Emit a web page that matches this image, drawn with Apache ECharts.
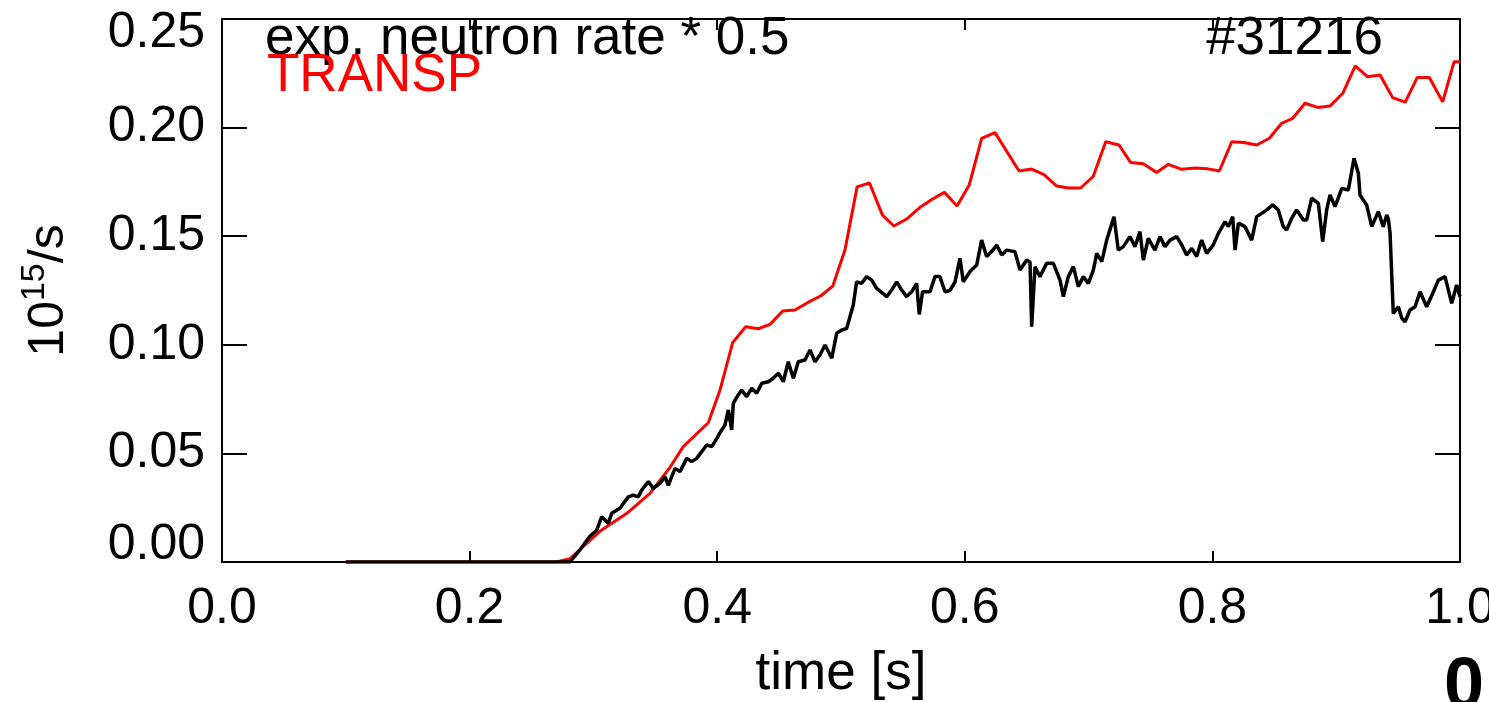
<!DOCTYPE html>
<html>
<head>
<meta charset="utf-8">
<script src="https://cdn.jsdelivr.net/npm/echarts@6/dist/echarts.min.js"></script>
<style>
html,body{margin:0;padding:0;background:#fff;}
#main{width:1489px;height:702px;}
</style>
</head>
<body>
<div id="main"></div>
<script>
const xTicks = [0.0, 0.2, 0.4, 0.6, 0.8, 1.0];
const yTicks = [0.00, 0.05, 0.10, 0.15, 0.20, 0.25];
const legendLabels = ['exp. neutron rate * 0.5', 'TRANSP'];
const shotLabel = '#31216';

// TRANSP (red), [time s, 10^15/s]
const transp = [
[0.100,0],[0.270,0],[0.281,0.0015],[0.305,0.014],[0.327,0.0224],[0.3457,0.0316],[0.3619,0.0436],
[0.3726,0.0531],[0.3928,0.0641],[0.4023,0.0792],[0.4125,0.101],[0.423,0.1083],[0.4332,0.1074],
[0.4427,0.1094],[0.4529,0.1156],[0.4628,0.116],[0.4733,0.1195],[0.4838,0.1226],[0.4933,0.127],
[0.5032,0.1436],[0.513,0.1727],[0.523,0.1745],[0.5335,0.1597],[0.5428,0.1547],[0.553,0.1579],
[0.5638,0.1633],[0.574,0.1671],[0.5835,0.1702],[0.5937,0.1639],[0.6036,0.1736],[0.6136,0.195],
[0.6244,0.1977],[0.6438,0.18],[0.654,0.1809],[0.664,0.1783],[0.6742,0.1731],[0.6836,0.1722],
[0.6936,0.1722],[0.7038,0.1776],[0.7138,0.1935],[0.7246,0.192],[0.734,0.1839],[0.7442,0.1834],
[0.755,0.1793],[0.7644,0.1831],[0.7752,0.1808],[0.786,0.1814],[0.7954,0.1811],[0.8056,0.18],
[0.8156,0.1935],[0.8255,0.1931],[0.8358,0.192],[0.846,0.1951],[0.856,0.202],[0.8649,0.2043],
[0.8748,0.2112],[0.885,0.2093],[0.895,0.2099],[0.9053,0.2158],[0.9154,0.2284],[0.9254,0.2234],
[0.9354,0.2242],[0.9456,0.2138],[0.9558,0.2117],[0.9655,0.2231],[0.9752,0.2231],[0.986,0.2119],
[0.9952,0.2303],[1.0,0.2303]
];

// experimental neutron rate * 0.5 (black), [time s, 10^15/s]
const expNeutron = [
[0.100,0],[0.281,0],[0.289,0.0055],[0.297,0.0117],[0.3027,0.0147],[0.3067,0.0209],[0.312,0.0178],
[0.3148,0.0224],[0.3215,0.0247],[0.3242,0.027],[0.3282,0.030],[0.3322,0.0308],[0.3363,0.030],
[0.339,0.0331],[0.3444,0.037],[0.3484,0.0339],[0.3538,0.0362],[0.3578,0.0393],[0.3605,0.0353],
[0.3659,0.0431],[0.370,0.0416],[0.3754,0.0477],[0.3794,0.0462],[0.3834,0.0477],[0.3875,0.0508],
[0.3915,0.0539],[0.3956,0.0531],[0.3996,0.0568],[0.4036,0.0608],[0.4063,0.0631],[0.409,0.070],
[0.4117,0.0608],[0.413,0.0731],[0.417,0.0769],[0.4198,0.0792],[0.4238,0.0761],[0.4279,0.0800],
[0.4319,0.0777],[0.436,0.0823],[0.4413,0.083],[0.4453,0.0846],[0.4494,0.0869],[0.4534,0.083],
[0.4574,0.0922],[0.4615,0.0846],[0.4655,0.0922],[0.4709,0.093],[0.475,0.0976],[0.479,0.0922],
[0.483,0.0953],[0.4871,0.0999],[0.4925,0.0938],[0.4965,0.1053],[0.5006,0.1068],[0.5046,0.1076],
[0.5099,0.1183],[0.5126,0.129],[0.5167,0.1283],[0.5207,0.1314],[0.5248,0.1298],[0.5288,0.126],
[0.533,0.124],[0.5369,0.1222],[0.5409,0.1252],[0.545,0.129],[0.549,0.1252],[0.553,0.1222],
[0.5571,0.1244],[0.5611,0.1283],[0.5632,0.114],[0.5659,0.1244],[0.5719,0.1244],[0.5759,0.1314],
[0.5799,0.1314],[0.584,0.1244],[0.588,0.125],[0.5921,0.129],[0.5961,0.1398],[0.5988,0.129],
[0.6042,0.1337],[0.6096,0.1367],[0.6136,0.1482],[0.6176,0.1406],[0.6217,0.1429],[0.6258,0.1459],
[0.6298,0.1413],[0.6338,0.1436],[0.6405,0.1429],[0.6446,0.1344],[0.650,0.139],[0.6527,0.138],
[0.654,0.1083],[0.6567,0.1359],[0.6607,0.1314],[0.6661,0.1375],[0.6715,0.1375],[0.6769,0.1298],
[0.6796,0.1222],[0.6836,0.1314],[0.6877,0.136],[0.6917,0.1268],[0.6957,0.1314],[0.6998,0.1283],
[0.7038,0.1344],[0.7066,0.1421],[0.7106,0.1383],[0.7146,0.1482],[0.7205,0.159],[0.724,0.1436],
[0.728,0.1452],[0.7334,0.1498],[0.7375,0.1452],[0.7415,0.1521],[0.7442,0.139],[0.7482,0.149],
[0.7536,0.1436],[0.7577,0.1498],[0.7617,0.1452],[0.7658,0.1482],[0.7712,0.1498],[0.7752,0.146],
[0.7792,0.1413],[0.7833,0.1444],[0.7873,0.1406],[0.7913,0.1482],[0.7954,0.1421],[0.8007,0.146],
[0.8048,0.1513],[0.8102,0.1567],[0.8129,0.1544],[0.8164,0.159],[0.8183,0.1436],[0.821,0.156],
[0.8263,0.1544],[0.8317,0.1482],[0.8358,0.159],[0.8398,0.1605],[0.8439,0.1621],[0.8487,0.1644],
[0.8532,0.1621],[0.8573,0.1544],[0.86,0.1529],[0.8641,0.1583],[0.8681,0.1621],[0.8735,0.1575],
[0.8762,0.1575],[0.8802,0.1675],[0.8856,0.1651],[0.8891,0.1475],[0.8923,0.1621],[0.895,0.169],
[0.8991,0.1636],[0.9045,0.172],[0.9098,0.1713],[0.9144,0.1859],[0.9179,0.179],[0.9192,0.169],
[0.9246,0.1644],[0.9287,0.1544],[0.934,0.1613],[0.938,0.1544],[0.9408,0.1598],[0.9421,0.158],
[0.9435,0.1515],[0.9461,0.1145],[0.9502,0.1175],[0.9529,0.1123],[0.9556,0.1106],[0.9596,0.116],
[0.9637,0.1175],[0.9677,0.1244],[0.9731,0.1175],[0.9785,0.1244],[0.9825,0.1298],[0.9879,0.1314],
[0.9933,0.1191],[0.9973,0.1275],[1.0,0.1222]
];

const FONT = '"Liberation Sans", Arial, Helvetica, sans-serif';
const FS = 50;
const FT = 53;
const chart = echarts.init(document.getElementById('main'), null, {renderer: 'canvas'});

const axisLineStyle = {color: '#000', width: 2};
const xBase = {
  type: 'value', min: xTicks[0], max: xTicks[xTicks.length - 1], interval: 0.2,
  axisLine: {show: true, onZero: false, lineStyle: axisLineStyle},
  axisTick: {show: true, inside: true, length: 11, lineStyle: {color: '#000', width: 2}},
  splitLine: {show: false}
};
const yBase = {
  type: 'value', min: yTicks[0], max: yTicks[yTicks.length - 1], interval: 0.05,
  axisLine: {show: true, onZero: false, lineStyle: axisLineStyle},
  axisTick: {show: true, inside: true, length: 25, lineStyle: {color: '#000', width: 2}},
  splitLine: {show: false}
};

chart.setOption({
  animation: false,
  backgroundColor: '#fff',
  grid: {left: 222, right: 29, top: 19, bottom: 140, containLabel: false, outerBoundsMode: 'none'},
  xAxis: [
    Object.assign({}, xBase, {
      position: 'bottom',
      name: 'time [s]', nameLocation: 'middle', nameGap: 86,
      nameTextStyle: {fontFamily: FONT, fontSize: FT, color: '#000'},
      axisLabel: {show: true, margin: 22, fontFamily: FONT, fontSize: FS, color: '#000',
        formatter: v => v.toFixed(1), showMinLabel: true, showMaxLabel: true, hideOverlap: false}
    }),
    Object.assign({}, xBase, {position: 'top', axisLabel: {show: false}})
  ],
  yAxis: [
    Object.assign({}, yBase, {
      position: 'left',
      name: '{b|10}{s|15}{b|/s}', nameLocation: 'middle', nameGap: 148, nameRotate: 90,
      nameTextStyle: {fontFamily: FONT, fontSize: FS, color: '#000',
        rich: {
          b: {fontFamily: FONT, fontSize: FS, color: '#000', verticalAlign: 'bottom'},
          s: {fontFamily: FONT, fontSize: 34, color: '#000', verticalAlign: 'bottom', padding: [0, 0, 22, 0]}
        }},
      axisLabel: {show: true, margin: 17, fontFamily: FONT, fontSize: FS, color: '#000',
        showMinLabel: true, showMaxLabel: true, hideOverlap: false,
        formatter: function (v) {
          const s = v.toFixed(2);
          if (Math.abs(v - yTicks[yTicks.length - 1]) < 1e-9) return '{top|' + s + '}';
          if (Math.abs(v - yTicks[0]) < 1e-9) return '{bot|' + s + '}';
          return s;
        },
        rich: {
          top: {fontFamily: FONT, fontSize: FS, color: '#000', padding: [28, 0, 0, 0]},
          bot: {fontFamily: FONT, fontSize: FS, color: '#000', padding: [0, 0, 34, 0]}
        }
      }
    }),
    Object.assign({}, yBase, {position: 'right', axisLabel: {show: false}})
  ],
  graphic: [
    {type: 'text', left: 265, top: 13, z: 100,
      style: {text: legendLabels[0], fontFamily: FONT, fontSize: FT, fill: '#000'}},
    {type: 'text', left: 267, top: 50, z: 100,
      style: {text: legendLabels[1], fontFamily: FONT, fontSize: FT, fill: '#ff0000'}},
    {type: 'text', right: 106, top: 13, z: 100,
      style: {text: shotLabel, fontFamily: FONT, fontSize: FT, fill: '#000'}},
    {type: 'text', left: 1444, top: 652, z: 100,
      style: {text: '0', fontFamily: FONT, fontSize: 72, fontWeight: 'bold', fill: '#000'}}
  ],
  series: [
    {name: legendLabels[1], type: 'line', xAxisIndex: 0, yAxisIndex: 0, data: transp,
      showSymbol: false, symbol: 'none', lineStyle: {color: '#ff0000', width: 3}, z: 3},
    {name: legendLabels[0], type: 'line', xAxisIndex: 0, yAxisIndex: 0, data: expNeutron,
      showSymbol: false, symbol: 'none', lineStyle: {color: '#000', width: 3.5}, z: 4}
  ]
});
</script>
</body>
</html>
